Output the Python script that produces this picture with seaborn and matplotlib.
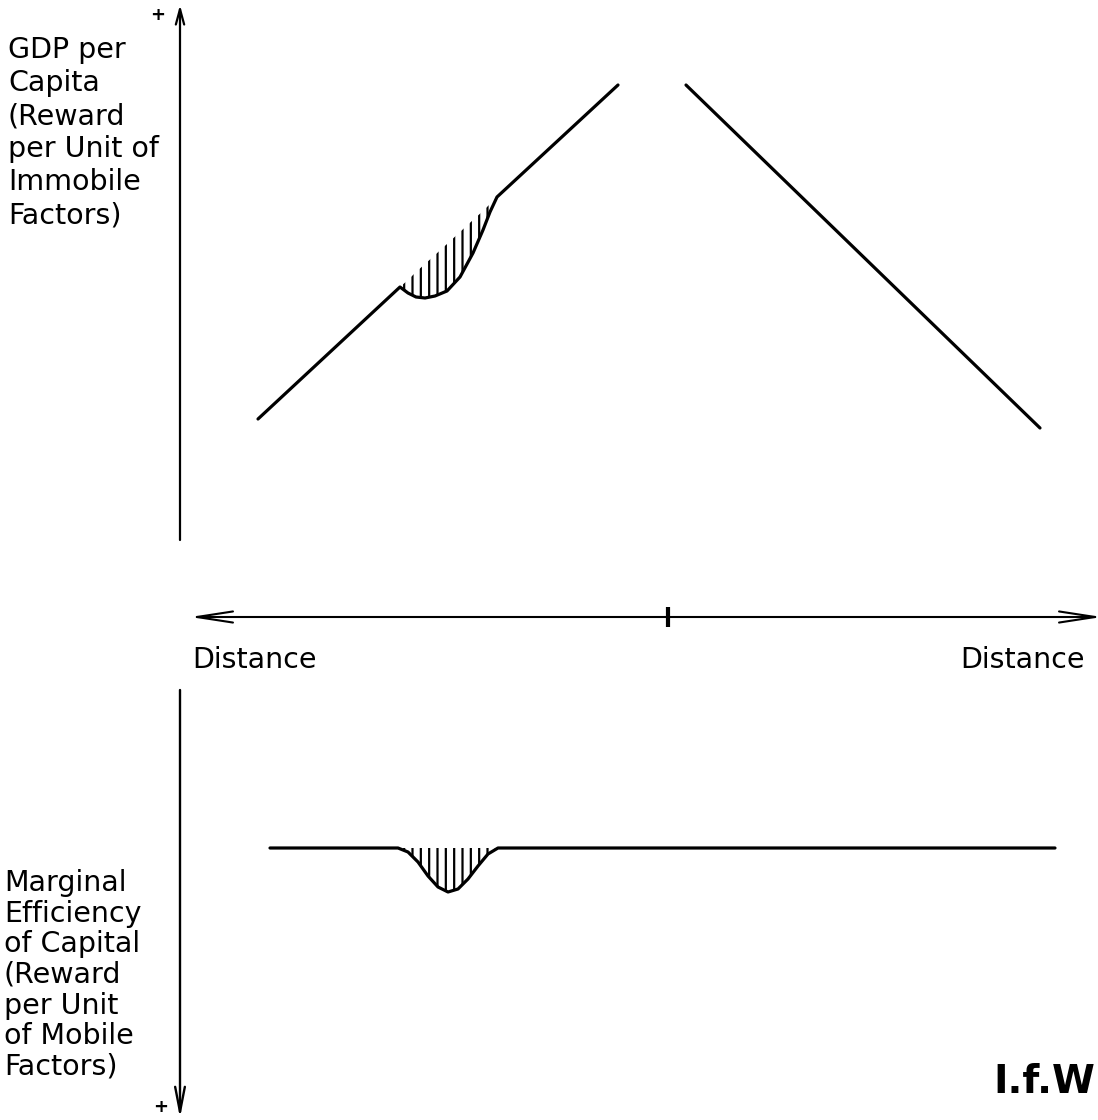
import numpy as np
import pandas as pd
import matplotlib
matplotlib.use("Agg")
import matplotlib.pyplot as plt
import seaborn as sns

# Diagram drawn in page units (pixels of the 1098x1120 scan), y grows downward
# upper panel: GDP per capita with a local dip
gdp_left_x = [258, 400, 408, 416, 425, 435, 447, 460, 473, 483, 490, 497, 618]
gdp_left_y = [419, 287, 293, 297, 298, 296, 291, 277, 253, 230, 212, 197, 85]
gdp_right_x = [686, 1040]
gdp_right_y = [85, 428]

# hatched gap between the straight trend and the dip
hatch_up_x = [400, 408, 416, 425, 435, 447, 460, 473, 483, 490, 497]
hatch_up_line = [287, 280, 272, 264, 255, 244, 232, 220, 211, 204, 197]
hatch_up_curve = [287, 293, 297, 298, 296, 291, 277, 253, 230, 212, 197]

# lower panel: marginal efficiency of capital (flat with a dip)
mec_x = [270, 398, 408, 418, 428, 438, 448, 458, 468, 478, 488, 498, 1055]
mec_y = [848, 848, 852, 862, 876, 887, 892, 889, 879, 866, 854, 848, 848]
mec_level = 848

upper_label = "GDP per\nCapita\n(Reward\nper Unit of\nImmobile\nFactors)"
lower_label = "Marginal\nEfficiency\nof Capital\n(Reward\nper Unit\nof Mobile\nFactors)"

sns.set_style("white")
plt.rcParams["font.family"] = ["DejaVu Sans"]
plt.rcParams["text.color"] = "black"
plt.rcParams["hatch.linewidth"] = 1.6

fig = plt.figure(figsize=(10.98, 11.2), dpi=100)
ax = fig.add_axes([0, 0, 1, 1])

df = pd.concat([
    pd.DataFrame({"x": gdp_left_x, "y": gdp_left_y, "seg": "gdp_left"}),
    pd.DataFrame({"x": gdp_right_x, "y": gdp_right_y, "seg": "gdp_right"}),
    pd.DataFrame({"x": mec_x, "y": mec_y, "seg": "mec"}),
], ignore_index=True)

sns.lineplot(data=df, x="x", y="y", units="seg", estimator=None, sort=False,
             color="black", lw=2.3, ax=ax)
ax.set_xlim(0, 1098)
ax.set_ylim(1120, 0)
ax.axis("off")

ax.fill_between(hatch_up_x, hatch_up_line, hatch_up_curve, facecolor="none",
                edgecolor="black", hatch="||", linewidth=0)
ax.fill_between(mec_x[1:-1], mec_level, mec_y[1:-1], facecolor="none",
                edgecolor="black", hatch="||", linewidth=0)

# axes with arrows
ax.annotate("", xy=(180, 5), xytext=(180, 540),
            arrowprops=dict(arrowstyle="->,head_length=1.1,head_width=0.3",
                            lw=1.6, color="black", shrinkA=0, shrinkB=0))
ax.annotate("", xy=(180, 1118), xytext=(180, 690),
            arrowprops=dict(arrowstyle="->,head_length=1.8,head_width=0.35",
                            lw=1.7, color="black", shrinkA=0, shrinkB=0))
ax.annotate("", xy=(190, 617), xytext=(1102, 617),
            arrowprops=dict(arrowstyle="<->,head_length=2.6,head_width=0.4",
                            lw=1.5, color="black", shrinkA=0, shrinkB=0))
ax.vlines(668, 607, 627, color="black", lw=3)

# texts
ax.text(8, 36, upper_label, fontsize=20.5, va="top", ha="left", linespacing=1.23)
ax.text(4, 869, lower_label, fontsize=20.5, va="top", ha="left", linespacing=1.12)
ax.text(192, 660, "Distance", fontsize=20.5, va="center", ha="left")
ax.text(960, 660, "Distance", fontsize=20.5, va="center", ha="left")
ax.text(158, 15, "+", fontsize=13, fontweight="bold", va="center", ha="center")
ax.text(161, 1107, "+", fontsize=13, fontweight="bold", va="center", ha="center")
ax.text(1095, 1093, "I.f.W", fontsize=28, fontweight="bold", va="baseline", ha="right")

fig.savefig("out.png", dpi=100)
